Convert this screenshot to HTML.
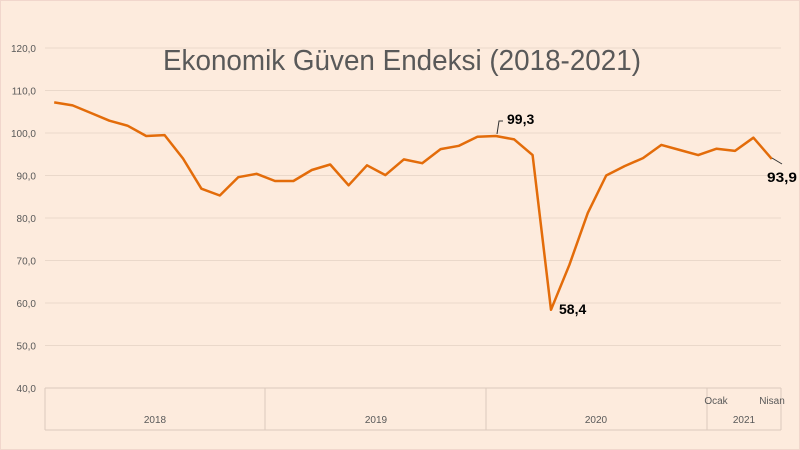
<!DOCTYPE html>
<html><head><meta charset="utf-8"><style>
html,body{margin:0;padding:0;background:#fdebdd;}
svg{display:block;font-family:"Liberation Sans",sans-serif;}
</style></head><body>
<svg id="c" width="800" height="450" viewBox="0 0 800 450">
<rect x="0" y="0" width="800" height="450" fill="#fdebdd"/>
<rect x="0.5" y="0.5" width="799" height="449" fill="none" stroke="#f1d6cc"/>
<g id="grid" stroke="#ead8ca" stroke-width="1"></g>
<g id="yl" font-size="10" fill="#595959" text-anchor="end"></g>
<text x="163" y="70" font-size="29" fill="#595959" textLength="478" lengthAdjust="spacingAndGlyphs">Ekonomik Güven Endeksi (2018-2021)</text>
<g stroke="#dccabd" stroke-width="1">
<line x1="45" y1="430" x2="781" y2="430"/>
<line x1="45" y1="388" x2="45" y2="430"/>
<line x1="265" y1="388" x2="265" y2="430"/>
<line x1="486" y1="388" x2="486" y2="430"/>
<line x1="707" y1="388" x2="707" y2="430"/>
<line x1="781" y1="388" x2="781" y2="430"/>
</g>
<g font-size="10" fill="#595959" text-anchor="middle">
<text x="155" y="423">2018</text>
<text x="376" y="423">2019</text>
<text x="596" y="423">2020</text>
<text x="744" y="423">2021</text>
<text x="716" y="404">Ocak</text>
<text x="772" y="404">Nisan</text>
</g>
<polyline id="ln" fill="none" stroke="#e36c0a" stroke-width="2.5" stroke-linejoin="round"/>
<polyline points="497,134 499,121 503,121" fill="none" stroke="#333" stroke-width="1"/>
<line x1="772" y1="158" x2="782" y2="164" stroke="#333" stroke-width="1"/>
<g font-size="14" font-weight="bold" fill="#000">
<text x="507" y="124">99,3</text>
<text x="559" y="314">58,4</text>
<text x="767" y="182" textLength="30" lengthAdjust="spacingAndGlyphs">93,9</text>
</g>
</svg>
<script>
var Y=v=>388-(v-40)*4.25;
var g=document.getElementById('grid'),yl=document.getElementById('yl'),ns='http://www.w3.org/2000/svg';
for(var v=40;v<=120;v+=10){var y=Y(v);
 var l=document.createElementNS(ns,'line');l.setAttribute('x1',45);l.setAttribute('x2',781);l.setAttribute('y1',y);l.setAttribute('y2',y);if(v==40)l.setAttribute('stroke','#dccabd');g.appendChild(l);
 var t=document.createElementNS(ns,'text');t.setAttribute('x',36);t.setAttribute('y',y+4);t.textContent=v+',0';yl.appendChild(t);}
var d=[107.2,106.5,104.7,102.9,101.7,99.3,99.5,94.0,86.9,85.3,89.6,90.4,88.7,88.7,91.3,92.6,87.7,92.4,90.1,93.8,92.9,96.2,97.0,99.1,99.3,98.5,94.8,58.4,69.0,81.2,90.0,92.2,94.1,97.2,96.0,94.8,96.3,95.8,98.9,93.9];
document.getElementById('ln').setAttribute('points',d.map((v,i)=>(54.2+i*18.4).toFixed(1)+','+Y(v).toFixed(1)).join(' '));
</script>
</body></html>
